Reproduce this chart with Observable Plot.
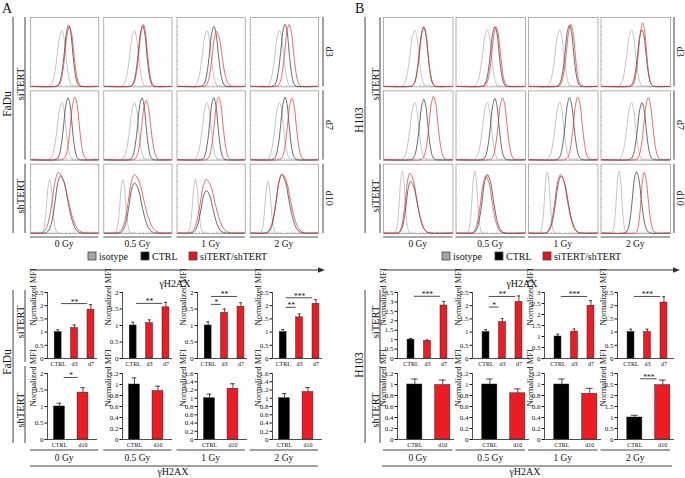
<!DOCTYPE html>
<html><head><meta charset="utf-8">
<script src="https://cdn.jsdelivr.net/npm/d3@7"></script>
<script src="https://cdn.jsdelivr.net/npm/@observablehq/plot@0.6"></script>
<style>
body{margin:0;background:#fff}
#fig{position:relative;width:685px;height:478px;overflow:hidden;background:#fff;font-family:"Liberation Serif",serif}
#fig svg{position:absolute;overflow:visible}
</style></head><body><div id="fig"></div>
<script>
// ---------- categories ----------
const doses = ["0 Gy", "0.5 Gy", "1 Gy", "2 Gy"];
const days = ["d3", "d7", "d10"];
const seriesNames = ["isotype", "CTRL", "siTERT/shTERT"];
const catsSi = ["CTRL", "d3", "d7"];
const catsSh = ["CTRL", "d10"];

// ---------- histogram curves: [peak position %, peak height %, left width, right width]
// rows d3, d7, d10 ; columns 0, 0.5, 1, 2 Gy
const histA_isotype = [
  [[46,81,7,6],[45,81,7,6],[44,81,7,6],[43,81,7,6]],
  [[46,83,7,6],[45,83,7,6],[44,83,7,6],[43,83,7,6]],
  [[28,78,4.3,4.3],[28,78,4.3,4.3],[27,78,4.3,4.3],[26,75,4.3,4.3]]];
const histA_ctrl = [
  [[56,89,6.5,6],[57,88,6.5,6],[54,87,6.5,6.5],[51,90,6.5,6]],
  [[55,90,6.5,6],[56,90,6.5,6],[54,90,6.5,6],[51,91,6.5,6]],
  [[44,83,8,11],[45,73,8,11],[43,62,8,10],[46,85,8,11]]];
const histA_si = [
  [[57,87,6.5,6.5],[58,90,6.5,6],[58,80,6.5,8],[57,90,6.5,6.5]],
  [[65,91,6.5,6.5],[62,86,6.5,7],[61,91,6.5,6.5],[61,89,6.5,6.5]],
  [[41,88,9,14],[45,85,9,14],[43,78,9,13],[47,86,9,12]]];
const histB_isotype = [
  [[45,82,7,6],[45,82,7,6],[45,82,7,6],[44,82,7,6]],
  [[45,83,7,6],[45,83,7,6],[45,83,7,6],[44,83,7,6]],
  [[27,90,4,4],[27,90,4,4],[27,89,4,4],[26,90,4,4]]];
const histB_ctrl = [
  [[58,86,6.5,6],[56,87,6.5,6],[59,89,6.5,6],[59,82,6.5,6]],
  [[58,88,6.5,6],[56,89,6.5,6],[59,90,6.5,6.5],[59,83,6.5,6]],
  [[39,75,6.5,10],[45,85,7.5,9],[47,83,8,10],[51,89,6,7]]];
const histB_si = [
  [[58,87,6.5,6],[58,86,6.5,6],[61,90,6.5,6],[60,92,6,5.5]],
  [[72,92,6.5,6.5],[67,90,6.5,6.5],[71,91,6.5,6.5],[68,90,6.5,6.5]],
  [[38,87,6.5,10],[43,83,7.5,9],[46,85,8,10],[62,88,4.5,6]]];
// shared peak profile (offset in widths -> fraction of peak)
const shapeOffsets = [-3,-2.5,-2,-1.5,-1,-0.5,0,0.5,1,1.5,2,2.5,3];
const shapeHeights = [0,0.02,0.08,0.25,0.55,0.88,1,0.88,0.55,0.25,0.08,0.02,0];
// minor tick positions inside the histogram frames (% of the frame)
const histTicksY = [12.5,25,37.5,50,62.5,75,87.5];
const histTicksX = [3,8,12,16,20,28,33,37,41,45,53,58,62,66,70,78,83,87,91,95];

// ---------- bar charts (Normalized MFI) ----------
const faduSiMean = [[1.00,1.15,1.85],[1.00,1.07,1.55],[1.00,1.38,1.57],[1.00,1.56,2.07]];
const faduSiErr  = [[0.09,0.12,0.19],[0.10,0.10,0.15],[0.11,0.12,0.12],[0.10,0.13,0.16]];
const faduShMean = [[1.00,1.42],[1.00,0.88],[1.00,1.23],[1.00,1.15]];
const faduShErr  = [[0.10,0.15],[0.12,0.09],[0.10,0.12],[0.11,0.11]];
const h103SiMean = [[1.00,0.93,2.81],[1.00,1.38,2.14],[1.00,1.22,2.40],[1.00,1.00,2.12]];
const h103SiErr  = [[0.06,0.05,0.22],[0.09,0.13,0.23],[0.11,0.12,0.23],[0.11,0.11,0.22]];
const h103ShMean = [[1.00,0.99],[1.00,0.84],[1.00,0.83],[1.00,2.47]];
const h103ShErr  = [[0.10,0.09],[0.10,0.08],[0.10,0.10],[0.10,0.23]];
const faduSiMax = [2.5,2,2,2.5], faduSiStep = [0.5,0.5,0.5,0.5];
const faduShMax = [2,1.2,1.6,1.6], faduShStep = [0.5,0.2,0.2,0.2];
const h103SiMax = [3.5,2.5,3,2.5], h103SiStep = [0.5,0.5,0.5,0.5];
const h103ShMax = [1.2,1.2,1.2,3], h103ShStep = [0.2,0.2,0.2,0.5];
// significance brackets: [from index, to index, y, label]
const faduSiSig = [[[0,2,2.08,"**"]],[[0,2,1.67,"**"]],[[0,1,1.64,"*"],[0,2,1.88,"**"]],[[0,1,1.94,"**"],[0,2,2.3,"***"]]];
const faduShSig = [[[0,1,1.88,"*"]],[],[],[]];
const h103SiSig = [[[0,2,3.3,"***"]],[[0,1,1.95,"*"],[0,2,2.35,"**"]],[[0,2,2.82,"***"]],[[0,2,2.35,"***"]]];
const h103ShSig = [[],[],[],[[0,1,2.76,"***"]]];

// ---------- style / layout ----------
const FONT = "Liberation Serif";
const lineColors = ["#b0b0b0", "#3a3a3a", "#e5393d"];
const barBlack = "#000", barRed = "#ec1c24";
const fig = document.getElementById("fig");
function place(node, left, top) {
  node.style.left = left + "px"; node.style.top = top + "px";
  fig.appendChild(node);
}

const histTop = 17, histBottom = 233, rowGap = 4;
const groups = [
  {letter: "A", letterX: 2, cell: "FaDu", cellYHist: 104, cellYBar: 362, outerX: 13, innerX: 25,
   colL: 30, colR: 318, colGap: 5, rightX: 323, third: "shTERT",
   iso: histA_isotype, ctrl: histA_ctrl, si: histA_si,
   legend: [88, 141, 189], arrow: [30, 325], arrowLabel: 175,
   axes: [47,122,197,272], plotW: 50, dom1: [-0.65,2.4], dom2: [-0.51,1.62], hw1: 0.21, hw2: 0.23,
   siMean: faduSiMean, siErr: faduSiErr, siMax: faduSiMax, siStep: faduSiStep, siSig: faduSiSig,
   shMean: faduShMean, shErr: faduShErr, shMax: faduShMax, shStep: faduShStep, shSig: faduShSig,
   barLine: [30, 318], barLabel: 173},
  {letter: "B", letterX: 355, cell: "H103", cellYHist: 120, cellYBar: 365, outerX: 365, innerX: 380,
   colL: 383, colR: 670, colGap: 3, rightX: 674, third: "siTERT",
   iso: histB_isotype, ctrl: histB_ctrl, si: histB_si,
   legend: [442, 495, 543], arrow: [383, 680], arrowLabel: 522,
   axes: [397,472,544,617], plotW: 57, dom1: [-0.82,2.64], dom2: [-0.62,1.42], hw1: 0.21, hw2: 0.27,
   siMean: h103SiMean, siErr: h103SiErr, siMax: h103SiMax, siStep: h103SiStep, siSig: h103SiSig,
   shMean: h103ShMean, shErr: h103ShErr, shMax: h103ShMax, shStep: h103ShStep, shSig: h103ShSig,
   barLine: [382, 672], barLabel: 525}
];

function colBands(g) {
  const b = (g.colR - g.colL - 3 * g.colGap) / 4;
  return d3.range(4).map(i => [g.colL + i * (b + g.colGap), g.colL + i * (b + g.colGap) + b]);
}
function rowBands() {
  const b = (histBottom - histTop - 2 * rowGap) / 3;
  return d3.range(3).map(i => [histTop + i * (b + rowGap), histTop + i * (b + rowGap) + b]);
}

// ---------- histogram panels ----------
function histPlot(g) {
  const rows = [];
  [[g.iso, seriesNames[0]], [g.ctrl, seriesNames[1]], [g.si, seriesNames[2]]].forEach(([arr, name]) => {
    arr.forEach((rowArr, r) => rowArr.forEach(([p, h, wl, wr], c) => {
      const pts = shapeOffsets.map((o, k) => ({x: p + o * (o < 0 ? wl : wr), y: h * shapeHeights[k]}))
        .filter(d => d.x > 1 && d.x < 99);
      [{x: 1, y: 0.6}, ...pts.map(d => ({x: d.x, y: Math.max(d.y, 0.6)})), {x: 99, y: 0.6}]
        .forEach(pt => rows.push({series: name, dose: doses[c], day: days[r], x: pt.x, y: pt.y}));
    }));
  });
  const W = 340, H = 240;
  const left = g.colL - 30;
  const b = (g.colR - g.colL - 3 * g.colGap) / 4;
  const rb = (histBottom - histTop - 2 * rowGap) / 3;
  const svg = Plot.plot({
    width: W, height: H,
    marginLeft: g.colL - left, marginRight: W - (g.colR - left), marginTop: histTop, marginBottom: H - histBottom,
    x: {domain: [0, 100], axis: null},
    y: {domain: [0, 100], axis: null},
    fx: {domain: doses, paddingInner: g.colGap / (b + g.colGap), paddingOuter: 0, axis: null, round: false},
    fy: {domain: days, paddingInner: rowGap / (rb + rowGap), paddingOuter: 0, axis: null, round: false},
    color: {domain: seriesNames, range: lineColors},
    style: {background: "transparent", fontFamily: FONT},
    marks: [
      Plot.ruleY(histTicksY, {x1: 0, x2: 2, stroke: "#999", strokeWidth: 0.6}),
      Plot.ruleX(histTicksX, {y1: 0, y2: 2, stroke: "#999", strokeWidth: 0.6}),
      Plot.frame({stroke: "#a0a0a0", strokeWidth: 0.8}),
      Plot.line(rows, {x: "x", y: "y", z: "series", stroke: "series", fx: "dose", fy: "day",
        strokeWidth: 0.75, curve: "catmull-rom"})
    ]
  });
  place(svg, left, 0);
}

// ---------- bar panels ----------
function barPlot(cats, mean, err, yMax, yStep, sig, axisX, rowTop, plotW, dom, hw) {
  const data = cats.map((c, i) => ({i, cat: c, v: mean[i], top: mean[i] + err[i]}));
  const sigs = sig.map(([a, b, y, label]) => ({x1: a + 0.2, x2: b - 0.2, mid: (a + b) / 2, y, label}));
  const ticks = d3.range(0, Math.round(yMax / yStep) + 1).map(k => +(k * yStep).toFixed(1));
  const ml = 28, mr = 4, mt = 7, mb = 12, ph = 66;
  const svg = Plot.plot({
    width: ml + plotW + mr, height: mt + ph + mb,
    marginLeft: ml, marginRight: mr, marginTop: mt, marginBottom: mb,
    x: {domain: dom, axis: null},
    y: {domain: [0, yMax], axis: null},
    style: {background: "transparent", fontFamily: FONT, color: "#111"},
    marks: [
      Plot.rectY(data, {x1: d => d.i - hw, x2: d => d.i + hw, y1: 0, y2: "v",
        fill: d => d.i === 0 ? barBlack : barRed, stroke: "#222", strokeWidth: 0.5}),
      Plot.ruleX(data, {x: "i", y1: "v", y2: "top", stroke: "#222", strokeWidth: 0.8}),
      Plot.ruleY(data, {y: "top", x1: d => d.i - hw * 0.45, x2: d => d.i + hw * 0.45, stroke: "#222", strokeWidth: 0.8}),
      Plot.axisY({ticks, tickSize: 2.5, tickPadding: 1.5, fontSize: 7, label: null, tickFormat: d => String(d)}),
      Plot.ruleX([dom[0]], {y1: 0, y2: yMax, stroke: "#222", strokeWidth: 0.8}),
      Plot.ruleY([0], {stroke: "#222", strokeWidth: 0.8}),
      Plot.axisX({ticks: data.map(d => d.i), tickFormat: i => cats[i], tickSize: 0, tickPadding: 3, fontSize: 6, label: null}),
      Plot.text(["Normalized MFI"], {frameAnchor: "left", rotate: -90, dx: -14, fontSize: 8.5}),
      Plot.ruleY(sigs, {y: "y", x1: "x1", x2: "x2", stroke: "#222", strokeWidth: 0.8}),
      Plot.text(sigs, {x: "mid", y: "y", text: "label", fontSize: 7.5, lineAnchor: "bottom", dy: 1})
    ]
  });
  place(svg, axisX - ml, rowTop - mt);
}

groups.forEach(g => {
  histPlot(g);
  for (let c = 0; c < 4; c++) {
    barPlot(catsSi, g.siMean[c], g.siErr[c], g.siMax[c], g.siStep[c], g.siSig[c], g.axes[c], 292, g.plotW, g.dom1, g.hw1);
    barPlot(catsSh, g.shMean[c], g.shErr[c], g.shMax[c], g.shStep[c], g.shSig[c], g.axes[c], 373, g.plotW, g.dom2, g.hw2);
  }
});

// ---------- annotation overlay: panel letters, brackets, labels, legend, arrows ----------
const ov = d3.create("svg").attr("width", 685).attr("height", 478)
  .style("font-family", FONT).attr("fill", "#111");
function txt(x, y, s, size, rot = 0, anchor = "middle") {
  ov.append("text").attr("transform", `translate(${x},${y}) rotate(${rot})`)
    .attr("text-anchor", anchor).attr("dominant-baseline", "central")
    .attr("font-size", size).text(s);
}
function ln(x1, y1, x2, y2, stroke = "#444", w = 1) {
  ov.append("line").attr("x1", x1).attr("y1", y1).attr("x2", x2).attr("y2", y2)
    .attr("stroke", stroke).attr("stroke-width", w);
}
const rb = rowBands();
groups.forEach(g => {
  const cb = colBands(g);
  ov.append("text").attr("x", g.letterX).attr("y", 13).attr("font-size", 14).text(g.letter);
  // histogram brackets
  ln(g.outerX, histTop, g.outerX, histBottom);
  txt(g.outerX - 6, g.cellYHist, g.cell, 11.5, -90);
  ln(g.innerX, rb[0][0], g.innerX, rb[1][1]);
  ln(g.innerX, rb[2][0], g.innerX, rb[2][1]);
  txt(g.innerX - 5, 84, "siTERT", 10.5, -90);
  txt(g.innerX - 5, 196, g.third, 10.5, -90);
  rb.forEach((r, i) => {
    ln(g.rightX, r[0], g.rightX, r[1]);
    txt(g.rightX + 6, (r[0] + r[1]) / 2, days[i], 10, 90);
  });
  cb.forEach((c, i) => {
    ln(c[0], 237, c[1], 237, "#555", 1);
    txt((c[0] + c[1]) / 2, 244, doses[i], 9.5);
  });
  // legend
  const fills = ["#a6a6a6", "#000", "#e8141c"];
  seriesNames.forEach((s, i) => {
    ov.append("rect").attr("x", g.legend[i]).attr("y", 252).attr("width", 8).attr("height", 8)
      .attr("fill", fills[i]).attr("stroke", "#444").attr("stroke-width", 0.8);
    txt(g.legend[i] + 11, 256, s, 10, 0, "start");
  });
  // arrow
  ln(g.arrow[0], 270, g.arrow[1] - 5, 270, "#333", 1);
  ov.append("path").attr("d", `M${g.arrow[1]},270 L${g.arrow[1] - 7},267.3 L${g.arrow[1] - 7},272.7 Z`).attr("fill", "#333");
  txt(g.arrowLabel, 283, "γH2AX", 10);
  // bar section brackets
  ln(g.outerX, 290, g.outerX, 443);
  txt(g.outerX - 6, g.cellYBar, g.cell, 11.5, -90);
  ln(g.innerX, 290, g.innerX, 362);
  ln(g.innerX, 366, g.innerX, 443);
  txt(g.innerX - 5, 322, "siTERT", 10.5, -90);
  txt(g.innerX - 5, 410, "shTERT", 10.5, -90);
  cb.forEach((c, i) => {
    ln(c[0], 450, c[1], 450, "#444", 1.2);
    txt((c[0] + c[1]) / 2, 457.5, doses[i], 9.5);
  });
  ln(g.barLine[0], 466, g.barLine[1], 466, "#444", 1);
  txt(g.barLabel, 471.5, "γH2AX", 10);
});
place(ov.node(), 0, 0);
</script></body></html>
